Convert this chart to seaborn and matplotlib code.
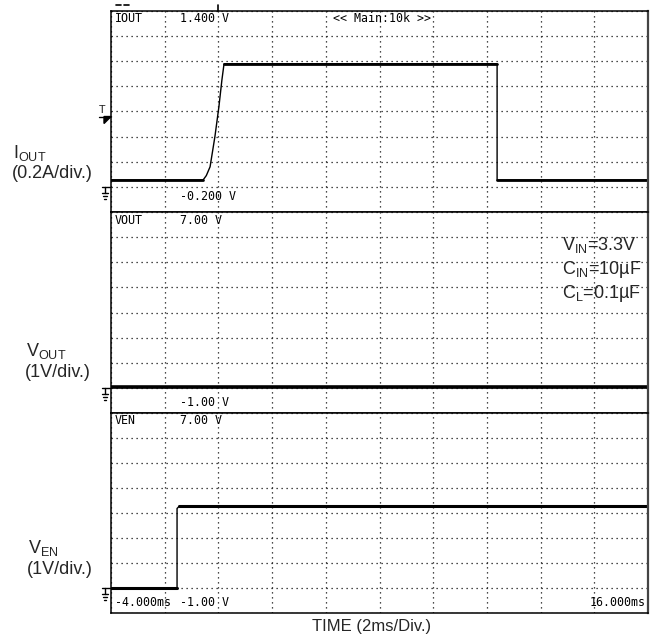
import matplotlib
matplotlib.use('Agg')
import matplotlib.pyplot as plt
from matplotlib.lines import Line2D
from matplotlib.patches import Polygon
from matplotlib.transforms import IdentityTransform
import numpy as np
import pandas as pd
import seaborn as sns

sns.set_theme(style='white')
plt.rcParams['font.family'] = ['Liberation Sans', 'DejaVu Sans']
plt.rcParams['mathtext.fontset'] = 'custom'
plt.rcParams['mathtext.rm'] = 'Liberation Sans'
plt.rcParams['mathtext.it'] = 'Liberation Sans:italic'

# traces, time in ms, values in screen units of each channel
IOUT_T = [-4.0, -0.57, -0.45, -0.31, -0.13, 0.02, 0.13, 0.21, 10.38, 10.38, 16.0]
IOUT_V = [0.055, 0.055, 0.09, 0.16, 0.40, 0.64, 0.85, 0.98, 0.98, 0.055, 0.055]
VOUT_T = [-4.0, 16.0]
VOUT_V = [0.02, 0.02]
VEN_T = [-4.0, -1.54, -1.54, -1.45, 16.0]
VEN_V = [0.0, 0.0, 3.18, 3.28, 3.28]

CHANNELS = ['IOUT', 'VOUT', 'VEN']
TOP_SCALE = ['1.400 V', '7.00 V', '7.00 V']
BOTTOM_SCALE = ['-0.200 V', '-1.00 V', '-1.00 V']
Y_LIMITS = [(-0.2, 1.4), (-1.0, 7.0), (-1.0, 7.0)]
Y_STEP = [0.2, 1.0, 1.0]
GROUND = [0.0, 0.0, 0.0]
TRIGGER_LEVEL = 0.56
TIME_RANGE = (-4.0, 16.0)
TIME_STEP = 2.0

SIDE_LABELS = [(r'I$_{\mathrm{OUT}}$', '(0.2A/div.)'),
               (r'V$_{\mathrm{OUT}}$', '(1V/div.)'),
               (r'V$_{\mathrm{EN}}$', '(1V/div.)')]
CONDITIONS = [r'V$_{\mathrm{IN}}$=3.3V', r'C$_{\mathrm{IN}}$=10µF', r'C$_{\mathrm{L}}$=0.1µF']

W, H = 657, 637
fig = plt.figure(figsize=(W / 100, H / 100), dpi=100)

# panel rectangles in pixels: left, top, right, bottom
panel_px = [(111, 11, 648, 212), (111, 212, 648, 413), (111, 413, 648, 613)]
traces = [(IOUT_T, IOUT_V, 2.0), (VOUT_T, VOUT_V, 2.6), (VEN_T, VEN_V, 2.2)]
mono = dict(family='DejaVu Sans Mono', fontsize=8.4, color='black')


def px_line(pts, lw=1.0):
    xs = [p[0] for p in pts]
    ys = [H - p[1] for p in pts]
    fig.add_artist(Line2D(xs, ys, transform=IdentityTransform(), color='black', lw=lw))


axes = []
for i, (l, t, r, b) in enumerate(panel_px):
    ax = fig.add_axes([l / W, (H - b) / H, (r - l) / W, (b - t) / H])
    axes.append(ax)
    tt, vv, flat_lw = traces[i]
    df = pd.DataFrame({'t': tt, 'v': vv})
    sns.lineplot(data=df, x='t', y='v', ax=ax, color='black', lw=1.0, sort=False, estimator=None)
    # steady levels look thicker on the scope (noise band)
    flat = []
    for k in range(len(tt) - 1):
        if vv[k] == vv[k + 1] and tt[k] != tt[k + 1]:
            flat.append({'t': tt[k], 'v': vv[k], 'seg': k})
            flat.append({'t': tt[k + 1], 'v': vv[k + 1], 'seg': k})
    if flat:
        sns.lineplot(data=pd.DataFrame(flat), x='t', y='v', units='seg', ax=ax, color='black',
                     lw=flat_lw, sort=False, estimator=None)
    ax.set_xlim(*TIME_RANGE)
    ax.set_ylim(*Y_LIMITS[i])
    ax.set_xticks(np.arange(TIME_RANGE[0], TIME_RANGE[1] + 0.01, TIME_STEP))
    ax.set_yticks(np.arange(Y_LIMITS[i][0], Y_LIMITS[i][1] + 1e-6, Y_STEP[i]))
    ax.tick_params(length=0, labelbottom=False, labelleft=False)
    ax.set_xlabel('')
    ax.set_ylabel('')
    ax.grid(True, linestyle=(0, (1, 3)), linewidth=0.9, color='#111111')
    ax.set_axisbelow(True)
    for s in ax.spines.values():
        s.set_color('black')
        s.set_linewidth(1.1)
    ax.spines['right'].set_color('#444444')
    ax.spines['right'].set_linewidth(1.6)

    # on-screen readouts
    ph = b - t
    ax.text(0.0074, 1 - 8 / ph, CHANNELS[i], transform=ax.transAxes, ha='left', va='center', **mono)
    ax.text(0.1285, 1 - 8 / ph, TOP_SCALE[i], transform=ax.transAxes, ha='left', va='center', **mono)
    yb = 16 / ph if i == 0 else 11 / ph
    ax.text(0.1285, yb, BOTTOM_SCALE[i], transform=ax.transAxes, ha='left', va='center', **mono)

    # ground marker on the left
    gx, gy = ax.transData.transform((TIME_RANGE[0], GROUND[i]))
    gy = H - gy
    px_line([(gx - 9, gy), (gx - 1, gy)])
    px_line([(gx - 6, gy), (gx - 6, gy + 6)])
    px_line([(gx - 9, gy + 6), (gx - 3, gy + 6)])
    px_line([(gx - 8, gy + 9), (gx - 4, gy + 9)])
    px_line([(gx - 7, gy + 12), (gx - 5, gy + 12)])

axes[0].text(0.413, 1 - 8 / 201, '<< Main:10k >>', transform=axes[0].transAxes, ha='left', va='center', **mono)
axes[2].text(0.0074, 11 / 200, '-4.000ms', transform=axes[2].transAxes, ha='left', va='center', **mono)
axes[2].text(0.996, 11 / 200, '16.000ms', transform=axes[2].transAxes, ha='right', va='center', **mono)

# trigger level marker
tx, ty = axes[0].transData.transform((TIME_RANGE[0], TRIGGER_LEVEL))
ty = H - ty
fig.text(tx - 9, H - ty + 2, 'T', transform=IdentityTransform(), family='DejaVu Sans Mono',
         fontsize=8, ha='center', va='bottom')
px_line([(tx - 12, ty), (tx - 1, ty)])
fig.add_artist(Polygon([(tx - 7, H - ty), (tx, H - ty), (tx - 7, H - ty - 7)], closed=True,
                       transform=IdentityTransform(), color='black'))

# trigger time marker and header ticks above the screen
ttx, tty = axes[0].transData.transform((0.0, Y_LIMITS[0][1]))
px_line([(ttx, 5), (ttx, 11)], lw=1.2)
px_line([(116, 5), (121, 5)], lw=1.2)
px_line([(124, 5), (129, 5)], lw=1.2)

# channel labels on the left
side_y = [(153, 173), (351, 372), (548, 569)]
side_x = [13, 26, 28]
for (name, scale), (y1, y2), x in zip(SIDE_LABELS, side_y, side_x):
    fig.text(x / W, 1 - y1 / H, name, fontsize=13, ha='left', va='center')
    fig.text(x / W - 0.002, 1 - y2 / H, scale, fontsize=13, ha='left', va='center')

for label, y in zip(CONDITIONS, [245, 270, 293]):
    fig.text(562 / W, 1 - y / H, label, fontsize=13, ha='left', va='center')

fig.text(372 / W, 1 - 626 / H, 'TIME (2ms/Div.)', fontsize=12, ha='center', va='center')

fig.savefig('out.png', dpi=100, facecolor='white')
